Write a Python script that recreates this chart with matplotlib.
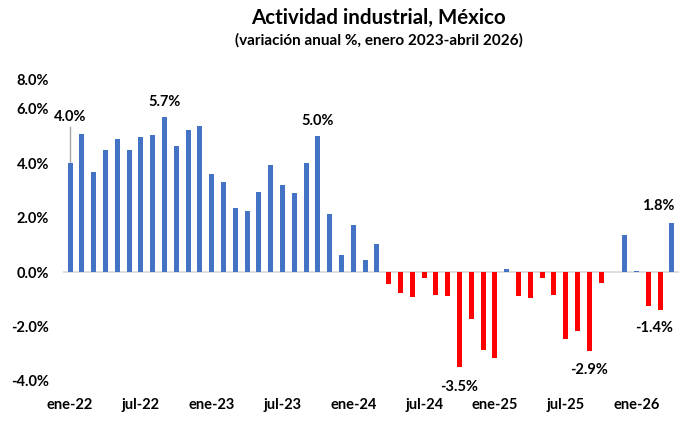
import numpy as np
import matplotlib.pyplot as plt

plt.rcParams['font.family'] = ['Lato', 'DejaVu Sans']

meses = ['ene', 'feb', 'mar', 'abr', 'may', 'jun', 'jul', 'ago', 'sep', 'oct', 'nov', 'dic']
fechas = [f'{m}-{a}' for a in range(22, 27) for m in meses][:52]

# variacion anual %, ene-22 a abr-26
valores = [4.0, 5.07, 3.69, 4.5, 4.88, 4.48, 4.95, 5.04, 5.7, 4.64, 5.23, 5.37,
           3.6, 3.32, 2.36, 2.25, 2.93, 3.94, 3.19, 2.9, 4.0, 5.0, 2.15, 0.64,
           1.73, 0.43, 1.02, -0.43, -0.78, -0.9, -0.21, -0.85, -0.89, -3.5, -1.73, -2.85,
           -3.17, 0.12, -0.88, -0.96, -0.21, -0.83, -2.46, -2.17, -2.9, -0.41, 0.0, 1.36,
           0.05, -1.25, -1.4, 1.8]

# etiquetas de datos: (indice, texto, dx, dy en puntos)
etiquetas = [(0, '4.0%', 0, 33), (8, '5.7%', 0, 11), (21, '5.0%', 0, 11),
             (33, '-3.5%', 0, -14), (44, '-2.9%', 0, -14),
             (50, '-1.4%', -4, -13), (51, '1.8%', -10, 12)]

# el eje de Excel llega a 8.0% pero la etiqueta queda pegada arriba
ytope = 7.06
yticks = [-4, -2, 0, 2, 4, 6, ytope]
yetiq = ['-4.0%', '-2.0%', '0.0%', '2.0%', '4.0%', '6.0%', '8.0%']

azul = '#4472C4'
rojo = '#FF0000'

x = np.arange(len(valores))
colores = [azul if v >= 0 else rojo for v in valores]

fig = plt.figure(figsize=(6.8, 4.23), dpi=100)
ax = fig.add_axes([0.0926, 0.0993, 0.906, 0.7117])

ax.bar(x, valores, width=0.42, color=colores, zorder=2)
ax.axhline(0, color='#D9D9D9', lw=1.2, zorder=1)

ax.set_xlim(-0.6, len(valores) - 0.4)
ax.set_ylim(-4, ytope)
ax.set_yticks(yticks)
ax.set_yticklabels(yetiq)
ax.set_xticks(x[::6])
ax.set_xticklabels(fechas[::6])

for s in ax.spines.values():
    s.set_visible(False)
ax.tick_params(axis='both', length=0, labelsize=10.5)
ax.tick_params(axis='y', pad=10)
ax.tick_params(axis='x', pad=12)
for t in ax.get_xticklabels() + ax.get_yticklabels():
    t.set_fontweight('bold')

# linea guia para la primera etiqueta
ax.plot([0, 0], [valores[0], 5.33], color='#A6A6A6', lw=1, zorder=1)

for i, txt, dx, dy in etiquetas:
    ax.annotate(txt, (x[i], valores[i]), xytext=(dx, dy), textcoords='offset points',
                ha='center', va='center', fontsize=10.5, fontweight='bold')

fig.text(0.556, 0.958, 'Actividad industrial, México', ha='center', va='center',
         fontsize=14.8, fontweight='bold')
fig.text(0.557, 0.905, '(variación anual %, enero 2023-abril 2026)', ha='center',
         va='center', fontsize=11, fontweight='bold')

fig.savefig('out.png', dpi=100)
